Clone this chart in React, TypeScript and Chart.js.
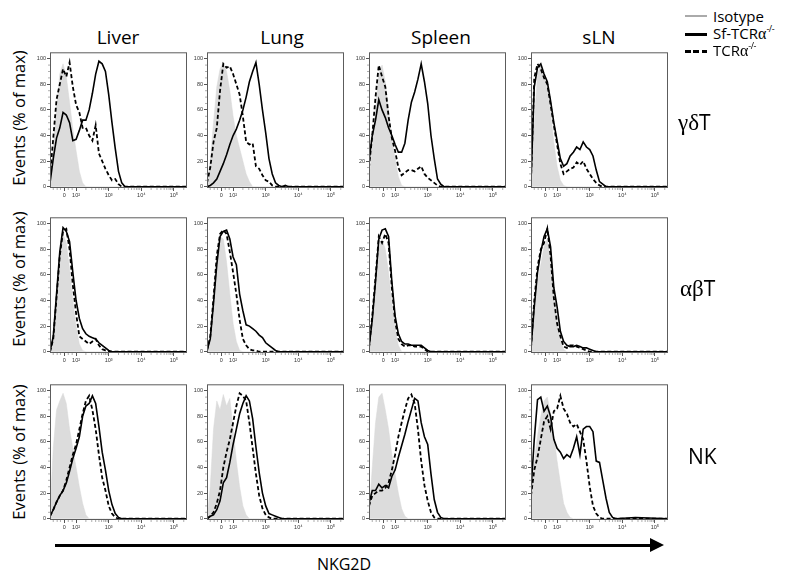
import { useEffect, useRef } from "react"
import { Chart, registerables } from "chart.js"

Chart.register(...registerables)

// x grid in display units of the biexponential axis (10^2 = 2, 10^3 = 3, ...)
const XS = [
  1.2, 1.3, 1.4, 1.5, 1.6, 1.7, 1.8, 1.9, 2.0, 2.1,
  2.2, 2.3, 2.4, 2.5, 2.6, 2.7, 2.8, 2.9, 3.0, 3.1,
  3.2, 3.3, 3.4, 3.5, 3.6, 3.7, 3.8, 4.4, 5.4,
]
const X_TICK_VALUES = [1.64, 2, 3, 4, 5]
const X_TICK_LABELS = ["0", "10²", "10³", "10⁴", "10⁵"]
const X_MINOR = [
  1.3, 1.42, 1.52, 1.76, 1.88,
  2.3, 2.48, 2.6, 2.7, 2.78, 2.85, 2.9, 2.95,
  3.3, 3.48, 3.6, 3.7, 3.78, 3.85, 3.9, 3.95,
  4.3, 4.48, 4.6, 4.7, 4.78, 4.85, 4.9, 4.95, 5.3,
]
const Y_TICKS = [0, 20, 40, 60, 80, 100]
const Y_MINOR = [5, 10, 15, 25, 30, 35, 45, 50, 55, 65, 70, 75, 85, 90, 95]

const COLUMNS = ["Liver", "Lung", "Spleen", "sLN"]

// γδT row
const LIVER_GD_ISO = [2, 30, 62, 88, 96, 86, 66, 45, 28, 12, 3, 0, 0, 0, 0, 0, 0, 0, 0, 0, 0, 0, 0, 0, 0, 0, 0, 0, 0]
const LIVER_GD_SF = [3, 22, 38, 46, 58, 56, 50, 36, 37, 44, 52, 52, 60, 73, 88, 98, 96, 90, 72, 50, 30, 12, 3, 0, 0, 0, 0, 0, 0]
const LIVER_GD_KO = [8, 38, 68, 80, 92, 86, 97, 78, 64, 58, 46, 46, 40, 36, 48, 26, 20, 14, 9, 5, 6, 2, 0, 0, 0, 0, 0, 0, 0]
const LUNG_GD_ISO = [2, 20, 50, 78, 92, 97, 90, 75, 55, 40, 30, 20, 10, 4, 0, 0, 0, 0, 0, 0, 0, 0, 0, 0, 0, 0, 0, 0, 0]
const LUNG_GD_SF = [0, 1, 3, 6, 12, 18, 25, 33, 40, 45, 52, 60, 70, 82, 90, 97, 80, 60, 42, 22, 10, 3, 1, 0, 1, 0, 0, 0, 0]
const LUNG_GD_KO = [3, 15, 35, 46, 75, 96, 93, 94, 88, 80, 72, 55, 35, 33, 34, 16, 14, 9, 5, 4, 1, 0, 0, 0, 0, 0, 0, 0, 0]
const SPLEEN_GD_ISO = [5, 30, 62, 88, 95, 82, 60, 38, 22, 8, 1, 0, 0, 0, 0, 0, 0, 0, 0, 0, 0, 0, 0, 0, 0, 0, 0, 0, 0]
const SPLEEN_GD_SF = [20, 40, 52, 68, 60, 54, 46, 40, 33, 27, 27, 34, 52, 66, 74, 84, 96, 82, 65, 40, 22, 6, 2, 0, 0, 0, 0, 0, 0]
const SPLEEN_GD_KO = [15, 40, 70, 95, 86, 78, 55, 38, 28, 15, 9, 11, 13, 13, 12, 14, 16, 10, 7, 5, 3, 1, 0, 0, 0, 0, 0, 0, 0]
const SLN_GD_ISO = [3, 50, 88, 95, 88, 75, 58, 35, 16, 5, 1, 0, 0, 0, 0, 0, 0, 0, 0, 0, 0, 0, 0, 0, 0, 0, 0, 0, 0]
const SLN_GD_SF = [5, 78, 93, 96, 88, 82, 67, 50, 36, 22, 16, 18, 24, 27, 31, 29, 35, 31, 29, 24, 13, 4, 2, 0, 0, 0, 0, 0, 0]
const SLN_GD_KO = [5, 85, 96, 92, 85, 80, 64, 48, 33, 18, 10, 12, 14, 15, 19, 17, 20, 14, 10, 6, 3, 1, 0, 0, 0, 0, 0, 0, 0]

// αβT row
const LIVER_AB_ISO = [0, 10, 40, 72, 92, 85, 65, 40, 20, 6, 1, 0, 0, 0, 0, 0, 0, 0, 0, 0, 0, 0, 0, 0, 0, 0, 0, 0, 0]
const LIVER_AB_SF = [0, 12, 45, 78, 97, 94, 86, 62, 40, 26, 18, 14, 12, 11, 10, 7, 5, 3, 1, 0, 0, 0, 0, 0, 0, 0, 0, 0, 0]
const LIVER_AB_KO = [0, 10, 42, 75, 94, 96, 80, 52, 30, 12, 10, 8, 6, 8, 10, 5, 2, 1, 0, 0, 0, 0, 0, 0, 0, 0, 0, 0, 0]
const LUNG_AB_ISO = [0, 10, 40, 72, 90, 88, 70, 45, 22, 8, 1, 0, 0, 0, 0, 0, 0, 0, 0, 0, 0, 0, 0, 0, 0, 0, 0, 0, 0]
const LUNG_AB_SF = [1, 10, 38, 68, 90, 94, 95, 88, 74, 68, 45, 32, 21, 20, 18, 16, 13, 11, 7, 5, 3, 1, 0, 0, 0, 0, 0, 0, 0]
const LUNG_AB_KO = [1, 12, 42, 75, 92, 95, 92, 78, 62, 45, 25, 10, 5, 2, 1, 1, 0, 0, 0, 0, 0, 0, 0, 0, 0, 0, 0, 0, 0]
const SPLEEN_AB_ISO = [2, 25, 55, 82, 88, 80, 62, 38, 18, 5, 0, 0, 0, 0, 0, 0, 0, 0, 0, 0, 0, 0, 0, 0, 0, 0, 0, 0, 0]
const SPLEEN_AB_SF = [3, 25, 55, 88, 95, 96, 90, 55, 28, 14, 8, 6, 6, 5, 5, 5, 5, 3, 1, 0, 0, 0, 0, 0, 0, 0, 0, 0, 0]
const SPLEEN_AB_KO = [3, 28, 58, 90, 85, 92, 85, 50, 24, 10, 6, 4, 5, 5, 4, 4, 4, 2, 0, 0, 0, 0, 0, 0, 0, 0, 0, 0, 0]
const SLN_AB_ISO = [2, 28, 55, 68, 82, 88, 70, 45, 25, 10, 2, 0, 0, 0, 0, 0, 0, 0, 0, 0, 0, 0, 0, 0, 0, 0, 0, 0, 0]
const SLN_AB_SF = [3, 35, 62, 78, 90, 96, 82, 50, 35, 16, 8, 5, 4, 4, 5, 4, 3, 3, 2, 1, 0, 0, 0, 0, 0, 0, 0, 0, 0]
const SLN_AB_KO = [3, 40, 66, 80, 85, 96, 75, 42, 22, 12, 4, 3, 5, 5, 4, 3, 2, 1, 0, 0, 0, 0, 0, 0, 0, 0, 0, 0, 0]

// NK row
const LIVER_NK_ISO = [5, 55, 85, 92, 98, 90, 70, 55, 40, 25, 12, 3, 0, 0, 0, 0, 0, 0, 0, 0, 0, 0, 0, 0, 0, 0, 0, 0, 0]
const LIVER_NK_SF = [2, 7, 13, 18, 22, 28, 37, 47, 55, 64, 80, 88, 90, 96, 90, 72, 52, 38, 22, 11, 4, 1, 0, 0, 0, 0, 0, 0, 0]
const LIVER_NK_KO = [2, 7, 13, 18, 22, 30, 40, 50, 58, 70, 82, 92, 96, 85, 70, 50, 32, 22, 10, 4, 1, 0, 0, 0, 0, 0, 0, 0, 0]
const LUNG_NK_ISO = [0, 25, 70, 92, 85, 97, 88, 94, 70, 45, 25, 10, 3, 0, 0, 0, 0, 0, 0, 0, 0, 0, 0, 0, 0, 0, 0, 0, 0]
const LUNG_NK_SF = [0, 2, 3, 7, 14, 28, 32, 44, 58, 70, 82, 90, 96, 92, 78, 56, 36, 20, 10, 4, 3, 2, 1, 0, 0, 0, 0, 0, 0]
const LUNG_NK_KO = [0, 2, 5, 12, 22, 40, 52, 62, 75, 88, 98, 96, 92, 75, 55, 35, 18, 8, 3, 1, 0, 0, 0, 0, 0, 0, 0, 0, 0]
const SPLEEN_NK_ISO = [2, 40, 75, 95, 98, 85, 70, 50, 35, 20, 8, 2, 0, 0, 0, 0, 0, 0, 0, 0, 0, 0, 0, 0, 0, 0, 0, 0, 0]
const SPLEEN_NK_SF = [12, 22, 22, 27, 24, 26, 24, 33, 38, 48, 57, 66, 76, 85, 94, 92, 75, 64, 58, 35, 15, 5, 1, 0, 0, 0, 0, 0, 0]
const SPLEEN_NK_KO = [10, 18, 20, 22, 22, 24, 28, 38, 50, 64, 75, 85, 94, 97, 90, 70, 45, 26, 14, 5, 1, 0, 0, 0, 0, 0, 0, 0, 0]
const SLN_NK_ISO = [15, 45, 65, 80, 92, 95, 82, 65, 45, 28, 12, 5, 1, 0, 0, 0, 0, 0, 0, 0, 0, 0, 0, 0, 0, 0, 0, 0, 0]
const SLN_NK_SF = [22, 62, 93, 95, 84, 88, 80, 62, 55, 52, 47, 50, 48, 55, 64, 50, 70, 72, 72, 68, 45, 44, 30, 16, 5, 1, 0, 1, 0]
const SLN_NK_KO = [18, 38, 48, 62, 76, 80, 70, 84, 86, 96, 86, 82, 75, 72, 74, 68, 62, 45, 25, 10, 4, 1, 0, 0, 0, 0, 0, 0, 0]

const ROWS = [
  [
    [LIVER_GD_ISO, LIVER_GD_SF, LIVER_GD_KO],
    [LUNG_GD_ISO, LUNG_GD_SF, LUNG_GD_KO],
    [SPLEEN_GD_ISO, SPLEEN_GD_SF, SPLEEN_GD_KO],
    [SLN_GD_ISO, SLN_GD_SF, SLN_GD_KO],
  ],
  [
    [LIVER_AB_ISO, LIVER_AB_SF, LIVER_AB_KO],
    [LUNG_AB_ISO, LUNG_AB_SF, LUNG_AB_KO],
    [SPLEEN_AB_ISO, SPLEEN_AB_SF, SPLEEN_AB_KO],
    [SLN_AB_ISO, SLN_AB_SF, SLN_AB_KO],
  ],
  [
    [LIVER_NK_ISO, LIVER_NK_SF, LIVER_NK_KO],
    [LUNG_NK_ISO, LUNG_NK_SF, LUNG_NK_KO],
    [SPLEEN_NK_ISO, SPLEEN_NK_SF, SPLEEN_NK_KO],
    [SLN_NK_ISO, SLN_NK_SF, SLN_NK_KO],
  ],
]

// layout (page pixels)
const COL_LEFT = [50, 207, 369, 531]
const COL_TITLE_X = [118, 282, 441, 599]
const ROW_TOP = [49, 214, 381]
const ROW_MID = [118, 279, 452]
const BOX_W = 137
const BOX_H = 139
const Y_AXIS_W = 22
const X_AXIS_H = 15

const TICK_FONT = { family: "'Liberation Sans', 'DejaVu Sans', sans-serif", size: 5.5 }

const framePlugin = {
  id: "frame",
  afterDraw(chart: any) {
    const { ctx, chartArea: a, scales } = chart
    ctx.save()
    ctx.strokeStyle = "#5c5c5c"
    ctx.lineWidth = 1
    ctx.strokeRect(a.left + 0.5, a.top + 0.5, a.right - a.left - 1, a.bottom - a.top - 1)
    ctx.strokeStyle = "#777"
    ctx.lineWidth = 0.6
    ctx.beginPath()
    for (const v of X_MINOR) {
      const x = scales.x.getPixelForValue(v)
      ctx.moveTo(x, a.bottom)
      ctx.lineTo(x, a.bottom + 2)
    }
    for (const v of Y_MINOR) {
      const y = scales.y.getPixelForValue(v)
      ctx.moveTo(a.left, y)
      ctx.lineTo(a.left - 2, y)
    }
    ctx.stroke()
    ctx.restore()
  },
}

function Histogram({ left, top, iso, sf, ko }: { left: number; top: number; iso: number[]; sf: number[]; ko: number[] }) {
  const ref = useRef<HTMLCanvasElement>(null)

  useEffect(() => {
    if (!ref.current) return
    const toPoints = (vals: number[]) => XS.map((x, i) => ({ x, y: vals[i] }))
    const chart = new Chart(ref.current, {
      type: "line",
      data: {
        datasets: [
          {
            label: "Sf-TCRα-/-",
            data: toPoints(sf),
            borderColor: "#000",
            borderWidth: 1.6,
            pointRadius: 0,
            fill: false,
            order: 1,
          },
          {
            label: "TCRα-/-",
            data: toPoints(ko),
            borderColor: "#000",
            borderWidth: 1.8,
            borderDash: [4, 2.5],
            pointRadius: 0,
            fill: false,
            order: 2,
          },
          {
            label: "Isotype",
            data: toPoints(iso),
            borderColor: "#d9d9d9",
            backgroundColor: "#dcdcdc",
            borderWidth: 0.5,
            pointRadius: 0,
            fill: "origin",
            order: 3,
          },
        ],
      },
      options: {
        responsive: false,
        animation: false,
        layout: { padding: { top: 1, right: 1, left: 0, bottom: 0 } },
        plugins: { legend: { display: false }, tooltip: { enabled: false } },
        scales: {
          x: {
            type: "linear",
            min: 1.2,
            max: 5.4,
            afterBuildTicks: (axis: any) => {
              axis.ticks = X_TICK_VALUES.map((value) => ({ value }))
            },
            afterFit: (scale: any) => {
              scale.height = X_AXIS_H
            },
            ticks: {
              autoSkip: false,
              maxRotation: 0,
              padding: 1,
              color: "#333",
              font: TICK_FONT,
              callback: (_v: any, i: number) => X_TICK_LABELS[i],
            },
            grid: { drawOnChartArea: false, tickLength: 3, color: "#555" },
            border: { display: false },
          },
          y: {
            type: "linear",
            min: -1,
            max: 105,
            afterBuildTicks: (axis: any) => {
              axis.ticks = Y_TICKS.map((value) => ({ value }))
            },
            afterFit: (scale: any) => {
              scale.width = Y_AXIS_W
            },
            ticks: {
              padding: 1,
              color: "#333",
              font: TICK_FONT,
              callback: (v: any) => String(v),
            },
            grid: { drawOnChartArea: false, tickLength: 3, color: "#555" },
            border: { display: false },
          },
        },
      },
      plugins: [framePlugin],
    })
    return () => chart.destroy()
  }, [iso, sf, ko])

  const w = Y_AXIS_W + BOX_W + 1
  const h = 1 + BOX_H + X_AXIS_H
  return (
    <canvas
      ref={ref}
      width={w}
      height={h}
      style={{ position: "absolute", left: left - Y_AXIS_W, top: top - 1, width: w, height: h }}
    />
  )
}

const sans = "'Open Sans', 'Liberation Sans', sans-serif"
const serif = "'Liberation Serif', 'DejaVu Serif', serif"

const supStyle = { fontSize: 9, position: "relative" as const, top: -7, letterSpacing: -0.5 }

export default function App() {
  return (
    <div
      style={{
        position: "absolute",
        left: 0,
        top: 0,
        width: 800,
        height: 581,
        background: "#fff",
        fontFamily: sans,
        color: "#000",
        overflow: "hidden",
      }}
    >
      {COLUMNS.map((name, c) => (
        <div
          key={name}
          style={{
            position: "absolute",
            left: COL_TITLE_X[c],
            top: 37,
            transform: "translate(-50%, -50%)",
            fontSize: 19,
            whiteSpace: "nowrap",
          }}
        >
          {name}
        </div>
      ))}

      {ROW_MID.map((mid, r) => (
        <div
          key={r}
          style={{
            position: "absolute",
            left: 18,
            top: mid,
            transform: "translate(-50%, -50%) rotate(-90deg)",
            fontSize: 16.5,
            whiteSpace: "nowrap",
          }}
        >
          Events (% of max)
        </div>
      ))}

      {ROWS.map((row, r) =>
        row.map(([iso, sf, ko], c) => (
          <Histogram key={`${r}-${c}`} left={COL_LEFT[c]} top={ROW_TOP[r]} iso={iso} sf={sf} ko={ko} />
        ))
      )}

      {/* row labels */}
      <div style={{ position: "absolute", left: 678, top: 122, transform: "translateY(-50%)", fontSize: 21, whiteSpace: "nowrap" }}>
        <span style={{ fontFamily: serif, fontSize: 23 }}>γδ</span>T
      </div>
      <div style={{ position: "absolute", left: 680, top: 288, transform: "translateY(-50%)", fontSize: 21, whiteSpace: "nowrap" }}>
        <span style={{ fontFamily: serif, fontSize: 23 }}>αβ</span>T
      </div>
      <div style={{ position: "absolute", left: 688, top: 456, transform: "translateY(-50%)", fontSize: 21, whiteSpace: "nowrap" }}>
        NK
      </div>

      {/* legend */}
      <div style={{ position: "absolute", left: 685, top: 15, width: 22, height: 2, background: "#aaa" }} />
      <div style={{ position: "absolute", left: 713, top: 16, transform: "translateY(-50%)", fontSize: 15, lineHeight: 1 }}>
        Isotype
      </div>
      <div style={{ position: "absolute", left: 685, top: 33, width: 22, height: 2.5, background: "#000" }} />
      <div style={{ position: "absolute", left: 713, top: 34, transform: "translateY(-50%)", fontSize: 15, lineHeight: 1, whiteSpace: "nowrap" }}>
        Sf-TCR<span style={{ fontFamily: serif, fontSize: 16 }}>α</span>
        <span style={supStyle}>-/-</span>
      </div>
      <div
        style={{
          position: "absolute",
          left: 685,
          top: 50,
          width: 22,
          height: 2.5,
          background: "repeating-linear-gradient(90deg, #000 0 6px, transparent 6px 8.5px)",
        }}
      />
      <div style={{ position: "absolute", left: 713, top: 51, transform: "translateY(-50%)", fontSize: 15, lineHeight: 1, whiteSpace: "nowrap" }}>
        TCR<span style={{ fontFamily: serif, fontSize: 16 }}>α</span>
        <span style={supStyle}>-/-</span>
      </div>

      {/* NKG2D arrow */}
      <div style={{ position: "absolute", left: 55, top: 543.5, width: 597, height: 3, background: "#000" }} />
      <div
        style={{
          position: "absolute",
          left: 650,
          top: 538,
          width: 0,
          height: 0,
          borderLeft: "14px solid #000",
          borderTop: "7px solid transparent",
          borderBottom: "7px solid transparent",
        }}
      />
      <div style={{ position: "absolute", left: 344, top: 564, transform: "translate(-50%, -50%)", fontSize: 16, whiteSpace: "nowrap" }}>
        NKG2D
      </div>
    </div>
  )
}
